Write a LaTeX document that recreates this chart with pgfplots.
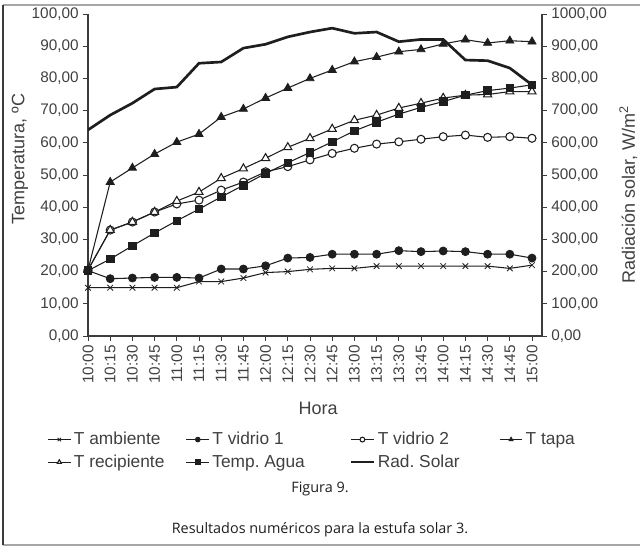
\documentclass[border=0pt]{standalone}
\usepackage{fontspec}
\setmainfont{Liberation Sans}
\newfontfamily\capfont{Open Sans}
\usepackage{pgfplots}
\usepackage{pgfplotstable}
\pgfplotsset{compat=1.18}
\definecolor{ink}{RGB}{30,30,30}
\definecolor{axisgray}{RGB}{60,60,60}
\pgfplotstableread{
i amb v1 v2 tapa rec agua rad
0 15.0 20.3 20.5 20.5 20.5 20.3 640
1 15.0 17.8 32.9 47.8 32.9 23.9 686
2 15.0 18.0 35.4 52.2 35.4 28.0 723
3 15.0 18.2 38.5 56.5 38.5 32.0 767
4 15.0 18.2 41.0 60.2 41.9 35.8 773
5 16.9 18.0 42.2 62.7 44.7 39.4 847
6 16.9 20.8 45.3 68.0 49.0 43.2 851
7 18.0 20.8 47.8 70.5 52.0 46.8 894
8 19.7 21.8 51.0 73.9 55.2 50.5 906
9 20.0 24.2 52.6 77.0 58.6 53.8 929
10 20.7 24.4 54.7 80.0 61.4 57.0 944
11 21.0 25.4 56.7 82.6 64.3 60.3 956
12 21.0 25.4 58.3 85.2 67.0 63.7 940
13 21.7 25.4 59.6 86.6 68.6 66.4 944
14 21.7 26.5 60.3 88.3 70.8 68.9 914
15 21.7 26.2 61.1 89.0 72.3 71.0 921
16 21.7 26.4 61.9 90.7 73.9 72.8 921
17 21.7 26.2 62.4 92.0 74.8 74.8 857
18 21.7 25.4 61.7 91.0 75.0 76.2 855
19 21.0 25.4 61.9 91.7 75.9 77.0 832
20 22.0 24.2 61.4 91.4 75.9 78.0 780
}\data
\pgfplotsset{
  common/.style={
    at={(66pt,157.5pt)}, anchor=south west,
    scale only axis, width=340.5pt, height=241.5pt,
    xmin=0, xmax=20.45,
    tick align=outside,
    major tick length=3.5pt,
    axis line style={-, color=axisgray, line width=0.8pt},
    tick style={color=axisgray, line width=0.7pt},
    /pgf/number format/assume math mode=true,
    yticklabel style={font=\fontsize{11.5}{12}\selectfont, color=ink!85,
      /pgf/number format/.cd, fixed, fixed zerofill, precision=2, use comma, 1000 sep={}},
    label style={font=\fontsize{13.5}{14}\selectfont, color=ink!85},
  },
  ser/.style={color=ink, line width=0.8pt, mark options={solid, line width=0.6pt}},
}
\begin{document}
\begin{tikzpicture}
\path[use as bounding box] (0pt,0pt) rectangle (480pt,409.5pt);
\draw[color=gray!70, line width=1.1pt] (480pt,405.75pt) -- (2.25pt,405.75pt);
\draw[color=gray!70, line width=1.1pt] (2.25pt,0.75pt) -- (480pt,0.75pt);
\draw[color=axisgray, line width=1.5pt] (2.25pt,405.75pt) -- (2.25pt,0.75pt);
\begin{axis}[common,
  ymin=0, ymax=100, ytick distance=10,
  axis x line*=bottom, axis y line*=left,
  xtick={0,...,20},
  xticklabels={10:00,10:15,10:30,10:45,11:00,11:15,11:30,11:45,12:00,12:15,12:30,12:45,13:00,13:15,13:30,13:45,14:00,14:15,14:30,14:45,15:00},
  xticklabel style={rotate=90, anchor=east, font=\fontsize{11.5}{12}\selectfont, color=ink!85},
  xlabel={Hora},
  xlabel style={at={(axis description cs:0.507,-0.224)}, anchor=center},
  ylabel={Temperatura, ºC},
  ylabel style={at={(axis description cs:-0.15,0.55)}, anchor=center},
  legend columns=4,
  legend cell align=left,
  legend style={at={(axis description cs:-0.09,-0.29)}, anchor=north west, draw=none, fill=none,
    font=\fontsize{13}{14}\selectfont, text=ink!85, inner sep=0pt, row sep=2pt,
    /tikz/every even column/.append style={column sep=2pt}},
  legend image post style={mark size=1.8pt},
]
\addplot[ser, mark=x, mark size=3pt] table[x=i, y=amb] {\data};
\addlegendentry{\makebox[80pt][l]{T ambiente}}
\addplot[ser, mark=*, mark size=3pt] table[x=i, y=v1] {\data};
\addlegendentry{\makebox[99pt][l]{T vidrio 1}}
\addplot[ser, mark=*, mark size=3pt, mark options={fill=white}] table[x=i, y=v2] {\data};
\addlegendentry{\makebox[87pt][l]{T vidrio 2}}
\addplot[ser, mark=triangle*, mark size=3.5pt] table[x=i, y=tapa] {\data};
\addlegendentry{T tapa}
\addplot[ser, mark=triangle*, mark size=3.5pt, mark options={fill=white}] table[x=i, y=rec] {\data};
\addlegendentry{T recipiente}
\addplot[ser, mark=square*, mark size=2.8pt] table[x=i, y=agua] {\data};
\addlegendentry{Temp.\ Agua}
\addlegendimage{color=ink, line width=2pt, no marks}
\addlegendentry{Rad.\ Solar}
\end{axis}
\begin{axis}[common,
  ymin=0, ymax=1000, ytick distance=100,
  axis y line*=right, axis x line=none,
  ylabel={Radiación solar, W/m\textsuperscript{2}},
  ylabel style={at={(axis description cs:1.19,0.44)}, anchor=center},
]
\addplot[color=ink, line width=2pt, no marks] table[x=i, y=rad] {\data};
\end{axis}
\node[font=\capfont\fontsize{10.8}{12}\selectfont, color=ink] at (240pt,43pt) {Figura 9.};
\node[font=\capfont\fontsize{10.8}{12}\selectfont, color=ink] at (240pt,12pt) {Resultados numéricos para la estufa solar 3.};
\end{tikzpicture}
\end{document}
